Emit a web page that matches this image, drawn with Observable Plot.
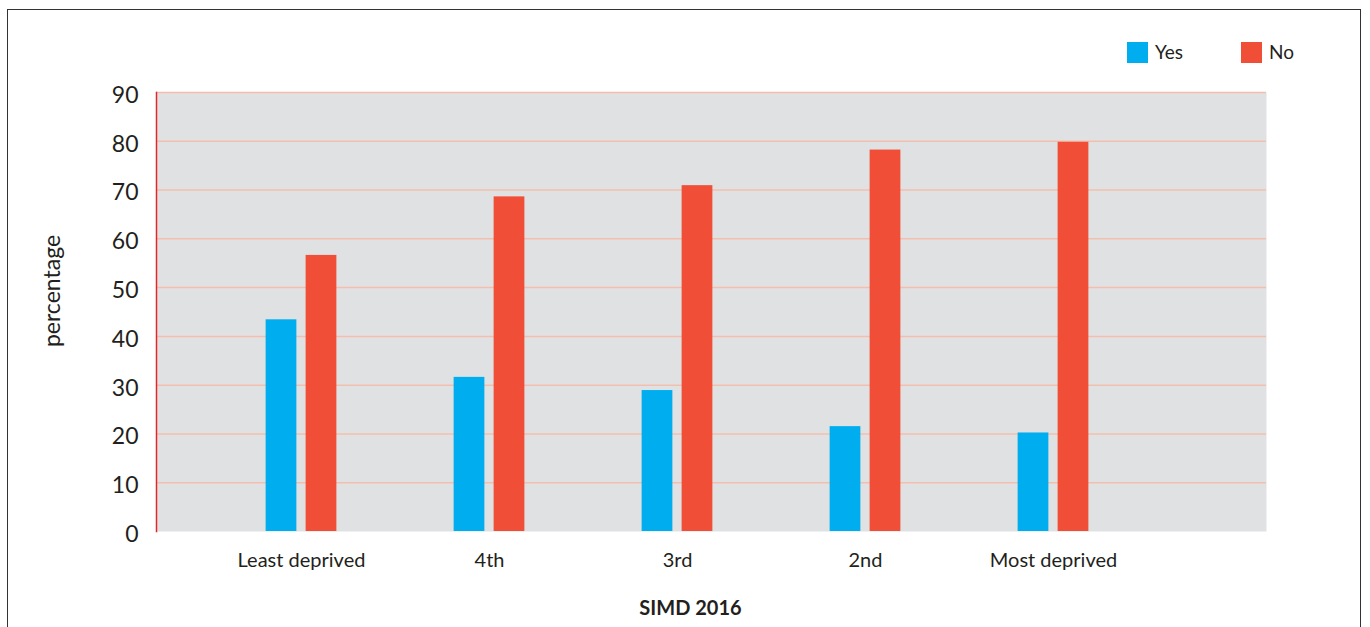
<!DOCTYPE html>
<html>
<head>
<meta charset="utf-8">
<script src="https://cdn.jsdelivr.net/npm/d3@7"></script>
<script src="https://cdn.jsdelivr.net/npm/@observablehq/plot@0.6"></script>
<style>
  html, body { margin: 0; padding: 0; background: #fff; overflow: hidden; }
  #wrap { position: relative; width: 1370px; height: 627px; font-family: Lato, "Open Sans", sans-serif; color: #231f20; }
  #border { position: absolute; left: 7px; top: 9px; width: 1354px; height: 700px; border: 1.5px solid #333; box-sizing: border-box; }
  #chart { position: absolute; left: 0; top: 0; }
  #legend { position: absolute; left: 0; top: 0; }
  .sw { position: absolute; width: 21px; height: 21px; }
  .lb { position: absolute; font-size: 19px; line-height: 21px; }
</style>
</head>
<body>
<div id="wrap">
  <div id="border"></div>
  <div id="chart"></div>
  <div id="legend"></div>
</div>
<script>
const categories = ["Least deprived", "4th", "3rd", "2nd", "Most deprived"];
const series = ["Yes", "No"];
const yesValues = [43.4, 31.6, 28.9, 21.5, 20.2];
const noValues = [56.6, 68.6, 70.9, 78.2, 79.8];
const yTicks = [0, 10, 20, 30, 40, 50, 60, 70, 80, 90];
const seriesColors = ["#00aeef", "#f04e37"];

const rows = [];
categories.forEach((c, i) => {
  rows.push({category: c, series: "Yes", value: yesValues[i]});
  rows.push({category: c, series: "No", value: noValues[i]});
});

const W = 1370, H = 627, mL = 156, mR = 104, mT = 92, mB = 96;
const padOuter = 0.448, align = 0.30, barW = 31, barOff = 20;
const step = (W - mL - mR) / (categories.length + 2 * padOuter);
const inset = (step - barW) / 2;

const chart = Plot.plot({
  width: W, height: H,
  marginLeft: mL, marginRight: mR, marginTop: mT, marginBottom: mB,
  style: {fontFamily: "Lato, 'Open Sans', sans-serif", color: "#231f20", background: "transparent", overflow: "visible"},
  x: {domain: categories, paddingInner: 0, paddingOuter: padOuter, align: align, label: null},
  y: {domain: [0, 90], label: null},
  color: {domain: series, range: seriesColors},
  marks: [
    Plot.frame({fill: "#e0e1e3", stroke: null}),
    Plot.ruleY(yTicks.slice(1), {stroke: "#f2bfae", strokeWidth: 1.5}),
    Plot.frame({anchor: "left", stroke: "#e4262b", strokeWidth: 1.5}),
    Plot.barY(rows.filter(d => d.series === "Yes"), {x: "category", y: "value", fill: "series", dx: -barOff, insetLeft: inset, insetRight: inset}),
    Plot.barY(rows.filter(d => d.series === "No"), {x: "category", y: "value", fill: "series", dx: barOff, insetLeft: inset, insetRight: inset}),
    Plot.axisX({tickSize: 0, tickPadding: 21, fontSize: 20, label: null}),
    Plot.axisY({ticks: yTicks, tickSize: 0, tickPadding: 18, fontSize: 23, dy: 3, label: null}),
    Plot.text(["percentage"], {frameAnchor: "left", textAnchor: "middle", lineAnchor: "middle", dx: -104, dy: -21, rotate: -90, fontSize: 23}),
    Plot.text(["SIMD 2016"], {frameAnchor: "bottom", textAnchor: "middle", lineAnchor: "middle", dx: -21, dy: 77, fontWeight: "bold", fontSize: 20})
  ]
});
document.getElementById("chart").appendChild(chart);

// legend
const legend = document.getElementById("legend");
const swLeft = [1127, 1241];
series.forEach((s, i) => {
  const sw = document.createElement("div");
  sw.className = "sw";
  sw.style.left = swLeft[i] + "px";
  sw.style.top = "42px";
  sw.style.background = seriesColors[i];
  legend.appendChild(sw);
  const lb = document.createElement("div");
  lb.className = "lb";
  lb.style.left = (swLeft[i] + 28) + "px";
  lb.style.top = "41px";
  lb.textContent = s;
  legend.appendChild(lb);
});
</script>
</body>
</html>
